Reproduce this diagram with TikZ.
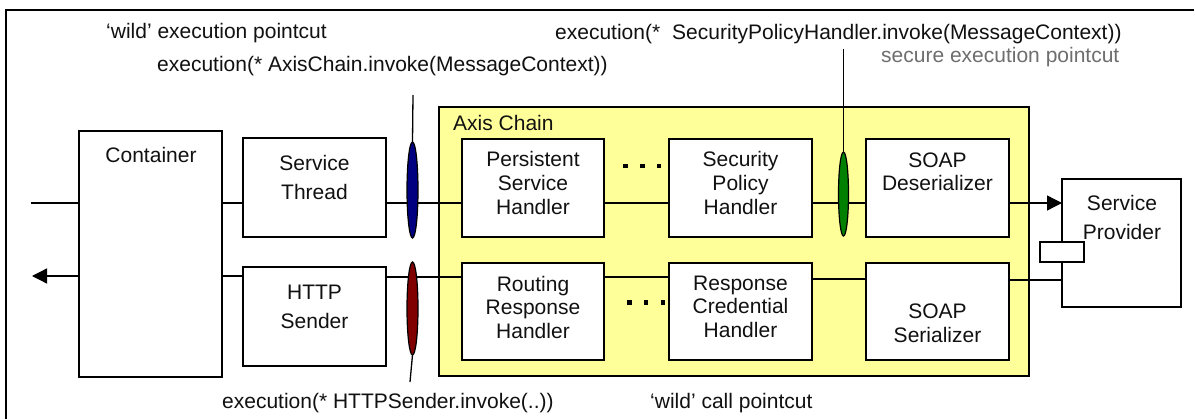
\documentclass[tikz,border=0pt]{standalone}
\usepackage{fontspec}
\setmainfont{Liberation Sans}
\usetikzlibrary{arrows.meta,shapes.geometric,fit}
\definecolor{chainyellow}{HTML}{FFFF99}
\definecolor{pcblue}{HTML}{000080}
\definecolor{pcred}{HTML}{800000}
\definecolor{pcgreen}{HTML}{008000}
\definecolor{pcgrey}{HTML}{6E6E6E}
\definecolor{ink}{HTML}{111111}
\begin{document}
\begin{tikzpicture}[x=1pt,y=-1pt,
  every node/.style={font=\fontsize{21}{25}\selectfont, text=ink},
  boxnode/.style={draw, line width=1.5pt, fill=white, inner sep=0pt, outer sep=0pt},
  chainbox/.style={draw, line width=2pt, fill=chainyellow, inner sep=0pt, outer sep=0pt},
  wire/.style={line width=1.3pt},
  tip/.style={-{Triangle[length=15pt,width=15pt]}},
  pc/.style={ellipse, draw, line width=1.2pt, inner sep=0pt, outer sep=0pt, minimum width=11pt},
  txt/.style={anchor=base, inner sep=0pt},
  lbl/.style={anchor=base west, inner sep=0pt},
  dotsq/.style={fill=black, minimum size=4.5pt, inner sep=0pt}
]
\fill[white] (0,0) rectangle (1195,420);
\useasboundingbox (0,0) rectangle (1195,420);
% outer frame (cut by the picture's edges): top and left sides
\coordinate (frTR) at (1194,10);
\coordinate (frTL) at (6,10);
\coordinate (frBL) at (6,419);
\draw[line width=2.2pt] (frTR) -- (frTL) -- (frBL);

% row levels
\coordinate (rowA) at (0,203);
\coordinate (rowB) at (0,277);
\coordinate (rowC) at (0,279);

% axis chain
\node[chainbox, fit={(439,107) (1029,376)}] (axis) {};

% boxes
\node[boxnode, line width=1.3pt, fit={(79,131) (222,377)}] (cont) {};
\node[boxnode, fit={(243,138) (386,237)}] (st) {};
\node[boxnode, fit={(243,267) (386,366)}] (hs) {};
\node[boxnode, fit={(1062,179) (1181,307)}] (sp) {};

% wires
\coordinate (inL) at (31,203);
\coordinate (outL) at (32,276);
\draw[wire] (inL) -- (cont.west |- rowA);
\draw[wire] (cont.east |- rowA) -- (st.west |- rowA);
\draw[wire] (st.east |- rowA) -- (axis.west |- rowA);
\draw[wire, tip] (cont.west |- 0,276) -- (outL);
\draw[wire] (cont.east |- 0,276) -- (hs.west |- 0,276);
\draw[wire] (hs.east |- rowB) -- (axis.west |- rowB);

% handler boxes
\node[boxnode, fit={(462,139) (604,237)}] (psh) {};
\node[boxnode, fit={(669,139) (812,237)}] (sph) {};
\node[boxnode, fit={(462,263) (604,360)}] (rrh) {};
\node[boxnode, fit={(669,263) (812,360)}] (rch) {};
\node[boxnode, fit={(866,139) (1009,237)}] (sd) {};
\node[boxnode, fit={(866,263) (1009,360)}] (ss) {};

\draw[wire] (axis.west |- rowA) -- (psh.west |- rowA);
\draw[wire] (psh.east |- rowA) -- (sph.west |- rowA);
\draw[wire] (sph.east |- rowA) -- (sd.west |- rowA);
\draw[wire, tip] (sd.east |- rowA) -- (sp.west |- rowA);
\draw[wire] (axis.west |- rowB) -- (rrh.west |- rowB);
\draw[wire] (rrh.east |- rowB) -- (rch.west |- rowB);
\draw[wire] (rch.east |- rowC) -- (ss.west |- rowC);
\draw[wire] (ss.east |- 0,280) -- (sp.west |- 0,280);

% port on service provider
\node[boxnode, line width=1.3pt, fit={(1040,242) (1084,262)}] (port) {};

% dots
\node[dotsq] (da1) at (625.5,166) {};
\node[dotsq] (da2) at (642.5,166) {};
\node[dotsq] (da3) at (659,166) {};
\node[dotsq] (db1) at (629.5,302.5) {};
\node[dotsq] (db2) at (646,302.5) {};
\node[dotsq] (db3) at (663,302.5) {};

% pointcut ellipses and their leader lines
\coordinate (bl) at (413,95);
\coordinate (rl) at (410,382);
\coordinate (gl) at (843.5,49);
\node[pc, fill=pcblue, minimum height=96pt] (be) at (412.5,190) {};
\node[pc, fill=pcred, minimum height=93pt] (re) at (412.5,308.5) {};
\node[pc, fill=pcgreen, minimum width=10pt, minimum height=84pt] (ge) at (843.5,194) {};
\draw[wire] (bl) -- (be.north);
\draw[wire] (re.south) -- (rl);
\draw[wire] (gl) -- (ge.north);

% box texts
\node[txt] (tcont) at (151,162) {Container};
\node[txt] (tst1) at (314.5,170) {Service};
\node[txt] (tst2) at (314.5,199) {Thread};
\node[txt] (ths1) at (314.5,299) {HTTP};
\node[txt] (ths2) at (314.5,328) {Sender};
\node[lbl] (taxis) at (453,131) {Axis Chain};
\node[txt] (tpsh1) at (533,166) {Persistent};
\node[txt] (tpsh2) at (533,190) {Service};
\node[txt] (tpsh3) at (533,214) {Handler};
\node[txt] (tsph1) at (740.5,166) {Security};
\node[txt] (tsph2) at (740.5,190) {Policy};
\node[txt] (tsph3) at (740.5,214) {Handler};
\node[txt] (trrh1) at (533,291) {Routing};
\node[txt] (trrh2) at (533,314) {Response};
\node[txt] (trrh3) at (533,338) {Handler};
\node[txt] (trch1) at (740.5,290) {Response};
\node[txt] (trch2) at (740.5,313) {Credential};
\node[txt] (trch3) at (740.5,337) {Handler};
\node[txt] (tsd1) at (937.5,167) {SOAP};
\node[txt] (tsd2) at (937.5,190) {Deserializer};
\node[txt] (tss1) at (937.5,318) {SOAP};
\node[txt] (tss2) at (937.5,342) {Serializer};
\node[txt] (tsp1) at (1122,210) {Service};
\node[txt] (tsp2) at (1122,239) {Provider};

% pointcut labels
\node[lbl] (lwild) at (106,39) {‘wild’ execution pointcut};
\node[lbl] (laxis) at (157,72) {execution(* AxisChain.invoke(MessageContext))};
\node[lbl] (lsec) at (555,40) {execution(*\hspace{12pt}SecurityPolicyHandler.invoke(MessageContext))};
\node[lbl, text=pcgrey] (lsecure) at (881,63) {secure execution pointcut};
\node[lbl] (lhttp) at (222,408) {execution(* HTTPSender.invoke(..))};
\node[lbl] (lcall) at (650,408) {‘wild’ call pointcut};
\end{tikzpicture}
\end{document}
